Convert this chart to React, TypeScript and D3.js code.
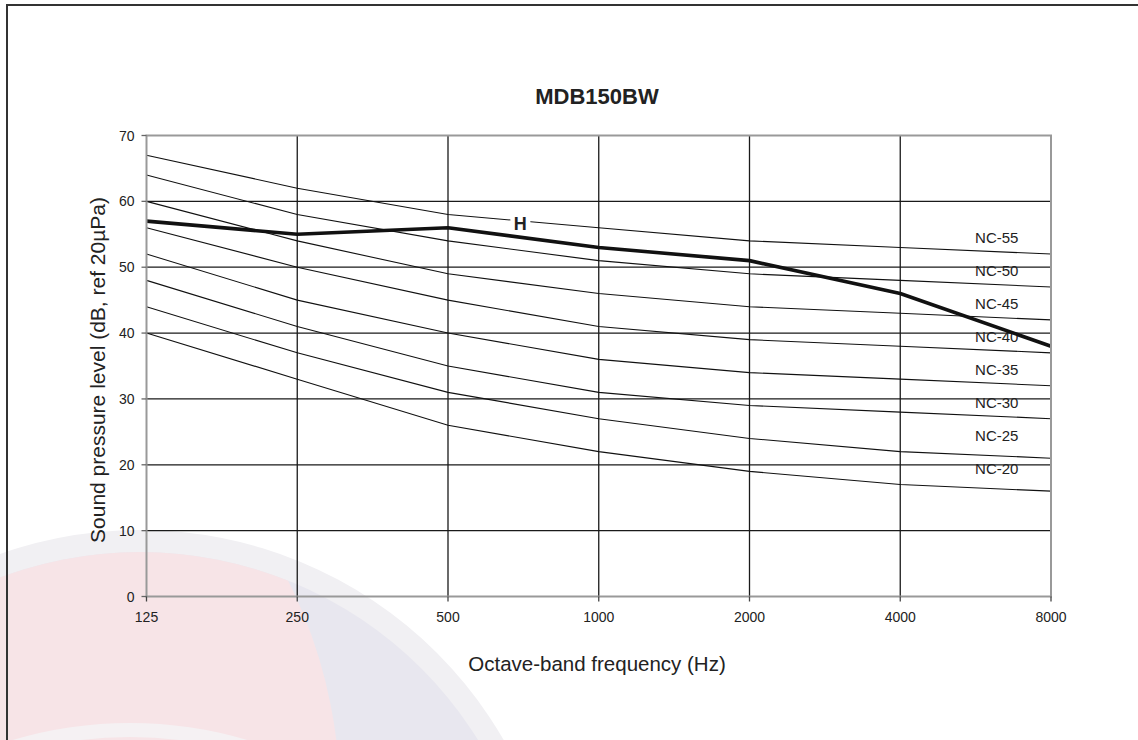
import React from "react";
import * as d3 from "d3";

const frequencies = ["125", "250", "500", "1000", "2000", "4000", "8000"];
const yTicks = [0, 10, 20, 30, 40, 50, 60, 70];
const ncLevels = [55, 50, 45, 40, 35, 30, 25, 20];
const nc55 = [67, 62, 58, 56, 54, 53, 52];
const nc50 = [64, 58, 54, 51, 49, 48, 47];
const nc45 = [60, 54, 49, 46, 44, 43, 42];
const nc40 = [56, 50, 45, 41, 39, 38, 37];
const nc35 = [52, 45, 40, 36, 34, 33, 32];
const nc30 = [48, 41, 35, 31, 29, 28, 27];
const nc25 = [44, 37, 31, 27, 24, 22, 21];
const nc20 = [40, 33, 26, 22, 19, 17, 16];
const ncCurves = [nc55, nc50, nc45, nc40, nc35, nc30, nc25, nc20];
const hValues = [57, 55, 56, 53, 51, 46, 38];
const hLabel = "H";
const title = "MDB150BW";
const xTitle = "Octave-band frequency (Hz)";
const yTitle = "Sound pressure level (dB, ref 20µPa)";

const W = 1138;
const H = 740;
const FONT = "'Liberation Sans', Arial, Helvetica, sans-serif";

export default function App() {
  const x = d3.scalePoint<string>().domain(frequencies).range([146.5, 1051]);
  const y = d3.scaleLinear().domain([0, 70]).range([596.5, 135.5]);
  const step = x.step();
  const line = d3
    .line<number>()
    .x((_, i) => x(frequencies[i]) as number)
    .y((d) => y(d));

  const x0 = x(frequencies[0]) as number;
  const x1 = x(frequencies[frequencies.length - 1]) as number;
  const yTop = y(70);
  const yBot = y(0);

  const hLabelX = (x(frequencies[2]) as number) + step * 0.48;
  const hLabelY = y(56.6);
  const ncLabelX = (x(frequencies[5]) as number) + step * 0.64;

  return (
    <svg
      width={W}
      height={H}
      style={{ position: "absolute", left: 0, top: 0, background: "#fff" }}
      fontFamily={FONT}
    >
      <defs>
        <clipPath id="innerCircle">
          <circle cx={140} cy={950} r={398} />
        </clipPath>
      </defs>
      {/* faint watermark */}
      <g>
        <circle cx={140} cy={950} r={420} fill="#f1f0f3" />
        <circle cx={140} cy={950} r={398} fill="#e8e7ef" />
        <g clipPath="url(#innerCircle)">
          <circle cx={-150} cy={800} r={490} fill="#f7e4e7" />
          <circle cx={130} cy={1135} r={405} fill="none" stroke="#f5f1f3" strokeWidth={14} />
        </g>
      </g>

      {/* outer frame */}
      <rect x={7} y={5} width={1300} height={1000} fill="none" stroke="#333" strokeWidth={2} />

      <text x={597} y={104} textAnchor="middle" fontSize={22} fontWeight="bold" fill="#222">
        {title}
      </text>

      {/* grid */}
      {yTicks.slice(1, -1).map((t) => (
        <line key={"h" + t} x1={x0} x2={x1} y1={y(t)} y2={y(t)} stroke="#1a1a1a" strokeWidth={1.3} />
      ))}
      {frequencies.slice(1, -1).map((f) => (
        <line key={"v" + f} x1={x(f)} x2={x(f)} y1={yTop} y2={yBot} stroke="#1a1a1a" strokeWidth={1.3} />
      ))}

      {/* NC curves */}
      {ncCurves.map((c, i) => (
        <path key={"nc" + i} d={line(c) || ""} fill="none" stroke="#111" strokeWidth={1.1} />
      ))}
      {ncLevels.map((lv) => (
        <text
          key={"ncl" + lv}
          x={ncLabelX}
          y={y(lv - 0.5)}
          textAnchor="middle"
          dominantBaseline="central"
          fontSize={15}
          fill="#222"
        >
          {"NC-" + lv}
        </text>
      ))}

      {/* H series */}
      <path d={line(hValues) || ""} fill="none" stroke="#111" strokeWidth={3.6} strokeLinejoin="round" />
      <rect x={hLabelX - 10} y={hLabelY - 7} width={20} height={14} fill="#fff" />
      <text
        x={hLabelX}
        y={hLabelY}
        textAnchor="middle"
        dominantBaseline="central"
        fontSize={18}
        fontWeight="bold"
        fill="#222"
      >
        {hLabel}
      </text>

      {/* plot frame / axes */}
      <rect x={x0} y={yTop} width={x1 - x0} height={yBot - yTop} fill="none" stroke="#999" strokeWidth={2} />

      {yTicks.map((t) => (
        <g key={"yt" + t}>
          <line x1={x0 - 5} x2={x0} y1={y(t)} y2={y(t)} stroke="#666" strokeWidth={1.3} />
          <text x={x0 - 12} y={y(t)} textAnchor="end" dominantBaseline="central" fontSize={14} fill="#222">
            {t}
          </text>
        </g>
      ))}
      {frequencies.map((f) => (
        <g key={"xt" + f}>
          <line x1={x(f)} x2={x(f)} y1={yBot} y2={yBot + 5} stroke="#444" strokeWidth={1.3} />
          <text x={x(f)} y={617} textAnchor="middle" dominantBaseline="central" fontSize={14} fill="#222">
            {f}
          </text>
        </g>
      ))}

      <text x={597} y={663} textAnchor="middle" dominantBaseline="central" fontSize={20.5} fill="#222">
        {xTitle}
      </text>
      <text
        transform={`translate(97, 370) rotate(-90)`}
        textAnchor="middle"
        dominantBaseline="central"
        fontSize={21}
        fill="#222"
      >
        {yTitle}
      </text>
    </svg>
  );
}
